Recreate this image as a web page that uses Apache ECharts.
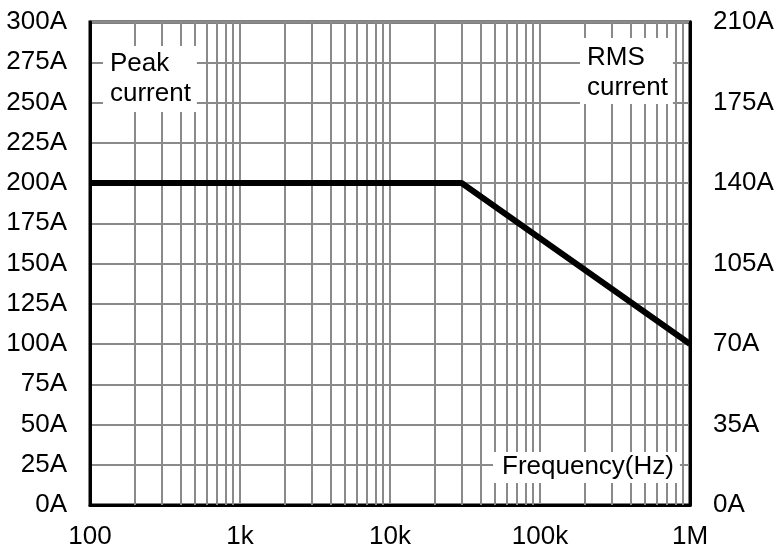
<!DOCTYPE html>
<html>
<head>
<meta charset="utf-8">
<script src="https://cdn.jsdelivr.net/npm/echarts@6/dist/echarts.min.js"></script>
<style>html,body{margin:0;padding:0;background:#fff}#c{width:777px;height:550px}</style>
</head>
<body>
<div id="c"></div>
<script>
// Data
const freqHz = [100, 30000, 1000000];
const peakCurrentA = [200, 200, 100];
const xTickValues = [100, 1000, 10000, 100000, 1000000];
const xTickLabels = ['100', '1k', '10k', '100k', '1M'];
const minorFreqs = [200,300,400,500,600,700,800,900,
  2000,3000,4000,5000,6000,7000,8000,9000,
  20000,30000,40000,50000,60000,70000,80000,90000,
  200000,300000,400000,500000,600000,700000,800000,900000];
const leftMin = 0, leftMax = 300, leftStep = 25;
const rightMin = 0, rightMax = 210, rightStep = 35;

const FONT = 'Liberation Sans, Arial, sans-serif';
const GRID = '#8a8a8a';
const chart = echarts.init(document.getElementById('c'));

function fmtX(v) {
  let best = 0, d = Infinity;
  xTickValues.forEach((t, i) => { const e = Math.abs(Math.log10(v) - Math.log10(t)); if (e < d) { d = e; best = i; } });
  return d < 0.01 ? xTickLabels[best] : '';
}

chart.setOption({
  animation: false,
  backgroundColor: '#fff',
  grid: { left: 90, right: 87, top: 22, bottom: 43, show: true, borderColor: '#000', borderWidth: 3, backgroundColor: 'transparent' },
  xAxis: {
    type: 'log', logBase: 10, min: 100, max: 1000000,
    axisLine: { show: true, lineStyle: { color: '#000', width: 3 } },
    axisTick: { show: false },
    axisLabel: { formatter: fmtX, color: '#000', fontSize: 26, fontFamily: FONT, margin: 19 },
    splitLine: { show: true, lineStyle: { color: GRID, width: 2 } },
    minorTick: { show: false }
  },
  yAxis: [
    {
      type: 'value', min: leftMin, max: leftMax, interval: leftStep, position: 'left',
      axisLine: { show: true, lineStyle: { color: '#000', width: 3 } },
      axisTick: { show: false },
      axisLabel: { formatter: '{value}A', color: '#000', fontSize: 26, fontFamily: FONT, margin: 23 },
      splitLine: { show: true, lineStyle: { color: GRID, width: 2 } }
    },
    {
      type: 'value', min: rightMin, max: rightMax, interval: rightStep, position: 'right',
      axisLine: { show: true, lineStyle: { color: '#000', width: 3 } },
      axisTick: { show: false },
      axisLabel: { formatter: '{value}A', color: '#000', fontSize: 26, fontFamily: FONT, margin: 23 },
      splitLine: { show: false }
    }
  ],
  series: [
    {
      type: 'line', data: [], z: 1, silent: true,
      markLine: {
        silent: true, symbol: 'none', label: { show: false },
        lineStyle: { color: GRID, width: 2, type: 'solid' },
        data: minorFreqs.map(f => ({ xAxis: f }))
      }
    },
    {
      type: 'line', z: 5, yAxisIndex: 0,
      data: freqHz.map((f, i) => [f, peakCurrentA[i]]),
      symbol: 'none',
      lineStyle: { color: '#000', width: 6 }
    }
  ],
  graphic: [
    { type: 'text', left: 103, top: 46, z: 10, style: { text: 'Peak\ncurrent', font: '26px ' + FONT, fill: '#000', lineHeight: 30, backgroundColor: '#fff', padding: [3, 6, 3, 7] } },
    { type: 'text', left: 580, top: 38, z: 10, style: { text: 'RMS\ncurrent', font: '26px ' + FONT, fill: '#000', lineHeight: 30, backgroundColor: '#fff', padding: [5, 5, 1, 7] } },
    { type: 'text', left: 493, top: 452, z: 10, style: { text: 'Frequency(Hz)', font: '26px ' + FONT, fill: '#000', lineHeight: 30, backgroundColor: '#fff', padding: [0, 6, 1, 9] } }
  ]
});
</script>
</body>
</html>
